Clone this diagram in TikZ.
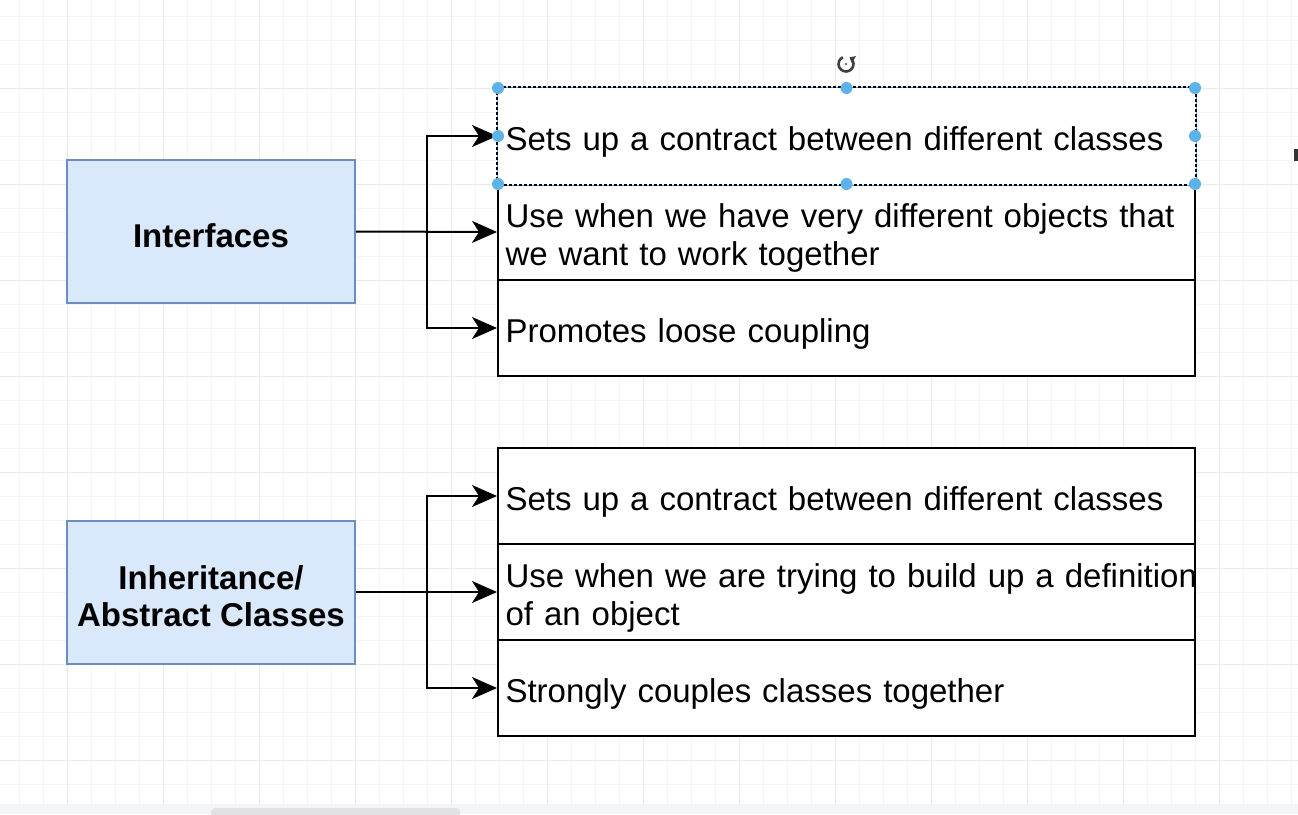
\documentclass[tikz,border=0pt]{standalone}
\usepackage{fontspec}
\setmainfont{Liberation Sans}
\usetikzlibrary{arrows.meta}
\hyphenpenalty=10000
\exhyphenpenalty=10000
\definecolor{gridminor}{HTML}{F5F5F5}
\definecolor{gridmajor}{HTML}{EBEBEB}
\definecolor{boxfill}{HTML}{DAE8FC}
\definecolor{boxline}{HTML}{6C8EBF}
\definecolor{handle}{HTML}{5DB3E8}
\definecolor{selblue}{HTML}{3FA9F5}
\definecolor{barbg}{HTML}{F4F5F7}
\definecolor{thumb}{HTML}{E1E1E3}
\tikzset{
  txt/.style={font=\fontsize{33}{38}\selectfont},
  lefttext/.style={font=\fontsize{33}{37}\selectfont\bfseries, align=center, inner sep=0pt, yshift=-4pt},
  leftbox/.style={draw=boxline, fill=boxfill, line width=2pt, minimum width=288pt, minimum height=143pt, inner sep=0pt, label={[lefttext]center:#1}},
  rowtext/.style={txt, text width=692pt, align=left, inner sep=0pt, yshift=-6pt, xshift=5pt},
  rowbox/.style={draw=black, line width=2pt, minimum width=697pt, minimum height=96pt, inner sep=0pt, fill=white, label={[rowtext]center:#1}},
  arr/.style={line width=2pt, -{Stealth[length=25pt,width=22pt,inset=7pt]}},
  hnd/.style={circle, fill=handle, inner sep=0pt, minimum size=12pt}
}
\begin{document}
\begin{tikzpicture}[x=1pt,y=-1pt]
\useasboundingbox (0,0) rectangle (1298,814);
\fill[white] (0,0) rectangle (1298,814);
% grid
\foreach \gx in {19,43,...,1298} \draw[gridminor, line width=1pt] (\gx,0) -- (\gx,804);
\foreach \gy in {16,40,...,804} \draw[gridminor, line width=1pt] (0,\gy) -- (1298,\gy);
\foreach \gx in {67,163,...,1298} \draw[gridmajor, line width=1pt] (\gx,0) -- (\gx,804);
\foreach \gy in {88,184,...,804} \draw[gridmajor, line width=1pt] (0,\gy) -- (1298,\gy);
% bottom scroll bar
\fill[barbg] (0,804) rectangle (1298,814);
\fill[thumb, rounded corners=4pt] (211,808) rectangle (460,820);
% right edge mark
\fill[black!80] (1294,149) rectangle (1298,161);

% left boxes
\node[leftbox={Interfaces}] (int) at (211,231.5) {};
\node[leftbox={Inheritance/\\Abstract Classes}] (inh) at (211,592) {};

% right rows
\node[rowbox={Use when we have very different objects that we want to work together}] (i2) at (846.5,232) {};
\node[rowbox={Promotes loose coupling}] (i3) at (846.5,328) {};
\node[rowbox={Sets up a contract between different classes}, draw=none] (i1) at (846.5,136) {};
\draw[white, line width=2.5pt] (i1.north west) rectangle (i1.south east);
\draw[selblue, line width=1pt] (i1.north west) rectangle (i1.south east);
\draw[black, line width=1.6pt, dash pattern=on 3pt off 2pt] (i1.north west) rectangle (i1.south east);

\node[rowbox={Sets up a contract between different classes}] (a1) at (846.5,496) {};
\node[rowbox={Use when we are trying to build up a definition of an object}] (a2) at (846.5,592) {};
\node[rowbox={Strongly couples classes together}] (a3) at (846.5,688) {};

% connectors
\coordinate (b1) at (427,232);
\coordinate (b2) at (427,592);
\draw[arr] (int.east) -- (i2.west);
\draw[arr] (b1) |- (i1.west);
\draw[arr] (b1) |- (i3.west);
\draw[arr] (inh.east) -- (a2.west);
\draw[arr] (b2) |- (a1.west);
\draw[arr] (b2) |- (a3.west);

% selection handles
\foreach \hx/\hy in {498/88, 846.5/88, 1195/88, 498/136, 1195/136, 498/184, 846.5/184, 1195/184}
  \node[hnd] at (\hx,\hy) {};

% rotate icon
\coordinate (rot) at (846,64);
\draw[black!75, line width=2.6pt, -{Triangle[length=5pt,width=8pt]}] ([shift={(245:7.5)}]rot) arc[start angle=245, end angle=-62, radius=7.5];
\fill[black!60] (rot) circle (1.3);
\end{tikzpicture}
\end{document}
